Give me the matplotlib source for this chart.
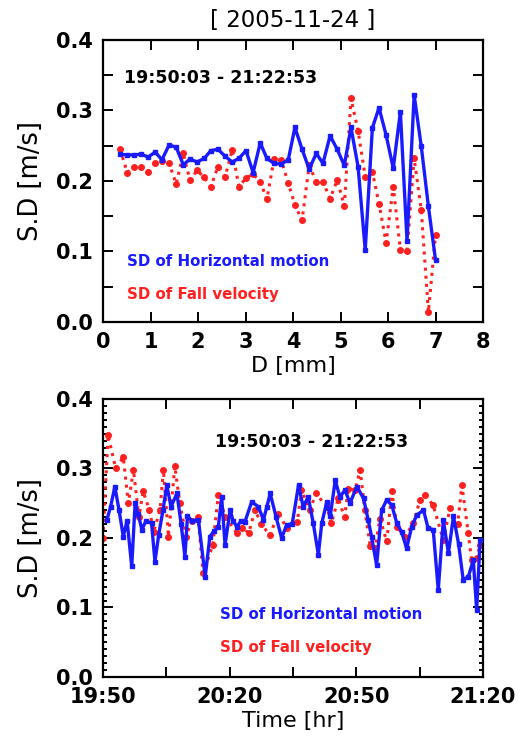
import matplotlib
matplotlib.use("Agg")
import matplotlib.pyplot as plt
from matplotlib.ticker import MultipleLocator, FixedLocator, FixedFormatter, FormatStrFormatter

plt.rcParams["font.family"] = ["DejaVu Sans"]
plt.rcParams["font.weight"] = "bold"

# ---- top panel: S.D versus drop diameter ----
diam_mm = [0.36, 0.51, 0.65, 0.80, 0.95, 1.10, 1.24, 1.39, 1.54, 1.69,
           1.83, 1.98, 2.13, 2.27, 2.42, 2.57, 2.72, 2.86, 3.01, 3.16,
           3.31, 3.45, 3.60, 3.75, 3.90, 4.04, 4.19, 4.34, 4.49, 4.63,
           4.78, 4.93, 5.08, 5.22, 5.37, 5.52, 5.67, 5.81, 5.96, 6.11,
           6.26, 6.40, 6.55, 6.70, 6.85, 7.00]
sd_horiz_d = [0.238, 0.237, 0.237, 0.238, 0.234, 0.241, 0.230, 0.251, 0.248, 0.223,
              0.231, 0.227, 0.232, 0.243, 0.245, 0.235, 0.227, 0.232, 0.243, 0.212,
              0.254, 0.232, 0.225, 0.224, 0.230, 0.276, 0.245, 0.217, 0.239, 0.225,
              0.264, 0.245, 0.222, 0.276, 0.220, 0.102, 0.275, 0.304, 0.265, 0.218,
              0.298, 0.115, 0.322, 0.249, 0.164, 0.088]
sd_fall_d = [0.245, 0.212, 0.220, 0.220, 0.213, 0.225, 0.228, 0.225, 0.196, 0.239,
             0.201, 0.215, 0.205, 0.192, 0.220, 0.206, 0.244, 0.192, 0.204, 0.210,
             0.199, 0.174, 0.231, 0.230, 0.197, 0.166, 0.144, 0.222, 0.199, 0.199,
             0.175, 0.201, 0.165, 0.317, 0.271, 0.206, 0.213, 0.168, 0.112, 0.192,
             0.102, 0.100, 0.232, 0.159, 0.014, 0.123]

# ---- bottom panel: S.D versus time (minutes after 19:50) ----
time_min = [0.9, 1.8, 2.8, 3.8, 4.8, 5.7, 6.8, 7.6, 8.3, 9.2,
            10.2, 11.5, 12.3, 13.2, 14.2, 15.1, 16.1, 17.5, 18.5, 19.4,
            20.0, 21.1, 22.6, 24.2, 25.3, 26.3, 27.3, 28.1, 28.9, 30.1,
            30.8, 31.7, 32.7, 33.6, 35.2, 36.8, 38.0, 38.8, 39.6, 41.0,
            42.3, 43.5, 44.8, 46.3, 47.4, 48.6, 49.8, 51.0, 51.8, 53.0,
            53.8, 55.0, 56.1, 57.3, 58.5, 60.1, 61.7, 62.8, 63.6, 64.8,
            66.0, 67.2, 68.4, 69.6, 70.7, 71.9, 73.1, 74.3, 75.9, 77.0,
            78.2, 79.4, 80.6, 81.8, 83.0, 84.2, 85.3, 86.5, 87.7, 88.5,
            89.3]
sd_horiz_t = [0.226, 0.245, 0.274, 0.240, 0.202, 0.225, 0.159, 0.250, 0.235, 0.212,
              0.225, 0.221, 0.166, 0.205, 0.240, 0.276, 0.245, 0.264, 0.220, 0.173,
              0.231, 0.225, 0.226, 0.144, 0.202, 0.210, 0.216, 0.259, 0.190, 0.240,
              0.225, 0.216, 0.225, 0.223, 0.252, 0.245, 0.226, 0.245, 0.264, 0.230,
              0.200, 0.219, 0.220, 0.276, 0.245, 0.259, 0.221, 0.176, 0.221, 0.252,
              0.231, 0.283, 0.259, 0.269, 0.250, 0.274, 0.257, 0.226, 0.202, 0.161,
              0.240, 0.255, 0.247, 0.221, 0.209, 0.185, 0.216, 0.233, 0.240, 0.214,
              0.212, 0.125, 0.226, 0.178, 0.231, 0.192, 0.140, 0.144, 0.168, 0.096,
              0.197]
fall_time_min = [0.0, 1.2, 3.0, 4.8, 6.0, 7.2, 8.5, 9.5, 11.0, 12.0,
                 13.5, 14.3, 15.5, 17.0, 18.2, 19.7, 21.0, 22.5, 23.7, 26.0,
                 27.3, 29.0, 31.7, 33.0, 34.5, 36.0, 37.5, 39.5, 41.5, 43.5,
                 46.0, 47.0, 49.0, 50.4, 53.0, 54.1, 55.7, 57.2, 58.1, 59.7,
                 60.9, 62.0, 63.3, 64.4, 65.6, 67.2, 68.4, 69.6, 71.5, 73.5,
                 75.1, 76.3, 78.2, 80.6, 82.2, 84.0, 85.0, 86.5, 87.3, 88.5,
                 89.3]
sd_fall_t = [0.200, 0.348, 0.300, 0.316, 0.250, 0.298, 0.230, 0.267, 0.240, 0.209,
             0.240, 0.298, 0.202, 0.303, 0.250, 0.202, 0.225, 0.230, 0.149, 0.190,
             0.262, 0.230, 0.207, 0.215, 0.207, 0.240, 0.220, 0.204, 0.235, 0.215,
             0.223, 0.269, 0.240, 0.264, 0.245, 0.221, 0.257, 0.230, 0.271, 0.269,
             0.298, 0.240, 0.188, 0.185, 0.228, 0.195, 0.267, 0.216, 0.202, 0.221,
             0.255, 0.262, 0.247, 0.197, 0.243, 0.220, 0.276, 0.207, 0.168, 0.171,
             0.190]

time_ticks = [0, 15, 30, 45, 60, 75, 90]
time_labels = ["19:50", "", "20:20", "", "20:50", "", "21:20"]

BLUE = "#1a1aff"
RED = "#ff2020"


def style_axes(ax):
    for sp in ax.spines.values():
        sp.set_linewidth(1.6)
    ax.tick_params(which="both", direction="in", top=True, right=True,
                   labelsize=15, width=1.4, pad=7)
    ax.tick_params(which="major", length=7)
    ax.tick_params(which="minor", length=3)


def draw_series(ax, x_b, y_b, x_r, y_r):
    ax.plot(x_r, y_r, color=RED, ls=":", lw=2.2, marker="o", ms=4,
            mec=RED, mfc=RED, zorder=2)
    ax.plot(x_b, y_b, color=BLUE, ls="-", lw=2.4, marker="s", ms=3,
            mec=BLUE, mfc=BLUE, zorder=3)


def add_labels(ax, xlabel, tx, ty, lx, ly):
    ax.set_xlabel(xlabel, fontsize=16, labelpad=3)
    ax.set_ylabel("S.D [m/s]", fontsize=18.5, labelpad=9)
    ax.text(tx, ty, "19:50:03 - 21:22:53", transform=ax.transAxes,
            fontsize=12.5, va="center", ha="left")
    ax.text(lx, ly, "SD of Horizontal motion", transform=ax.transAxes,
            fontsize=10.8, color=BLUE, va="center", ha="left")
    ax.text(lx, ly - 0.117, "SD of Fall velocity", transform=ax.transAxes,
            fontsize=10.8, color=RED, va="center", ha="left")


fig = plt.figure(figsize=(5.24, 7.46), dpi=100)
ax1 = fig.add_axes([0.1966, 0.5684, 0.7252, 0.378])
ax2 = fig.add_axes([0.1966, 0.0925, 0.7252, 0.3727])

# top panel
draw_series(ax1, diam_mm, sd_horiz_d, diam_mm, sd_fall_d)
ax1.set_xlim(0, 8)
ax1.set_ylim(0, 0.4)
ax1.xaxis.set_major_locator(MultipleLocator(1))
ax1.yaxis.set_major_locator(MultipleLocator(0.1))
ax1.yaxis.set_minor_locator(MultipleLocator(0.05))
ax1.yaxis.set_major_formatter(FormatStrFormatter("%.1f"))
style_axes(ax1)
ax1.tick_params(which="minor", length=7)
ax1.set_title("[ 2005-11-24 ]", fontsize=16.5, pad=9)
add_labels(ax1, "D [mm]", 0.055, 0.865, 0.063, 0.216)

# bottom panel
draw_series(ax2, time_min, sd_horiz_t, fall_time_min, sd_fall_t)
ax2.set_xlim(0, 90)
ax2.set_ylim(0, 0.4)
ax2.xaxis.set_major_locator(FixedLocator(time_ticks))
ax2.xaxis.set_major_formatter(FixedFormatter(time_labels))
ax2.yaxis.set_major_locator(MultipleLocator(0.1))
ax2.yaxis.set_minor_locator(MultipleLocator(0.01))
ax2.yaxis.set_major_formatter(FormatStrFormatter("%.1f"))
style_axes(ax2)
add_labels(ax2, "Time [hr]", 0.295, 0.845, 0.308, 0.223)

fig.savefig("out.png", dpi=100)
